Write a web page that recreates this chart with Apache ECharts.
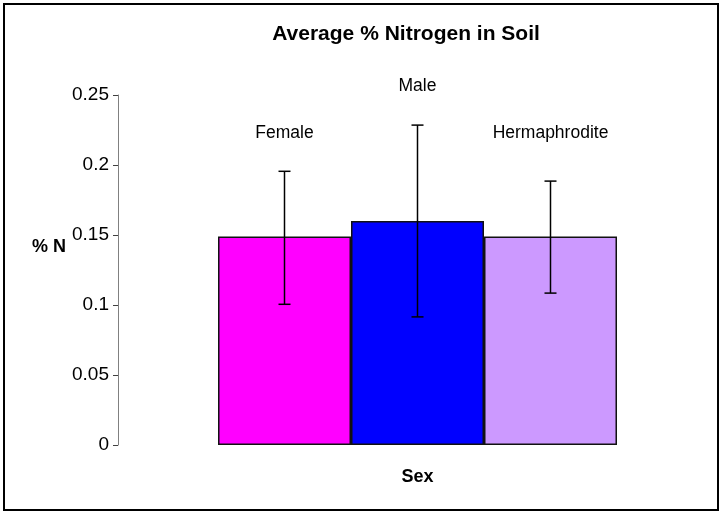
<!DOCTYPE html>
<html lang="en">
<head>
    <meta charset="UTF-8">
    <title>Average % Nitrogen in Soil</title>
    <script type="text/javascript" src="https://cdn.jsdelivr.net/npm/echarts@6/dist/echarts.min.js"></script>
    <style>
        html, body { margin: 0; padding: 0; background: #fff; }
    </style>
</head>
<body>
    <div id="charts" style="width:721px;height:512px;"></div>
</body>
<script type="text/javascript">
    // data
    var sexes = ['Female', 'Male', 'Hermaphrodite'];
    var meanN = [0.149, 0.160, 0.149];
    var errLow = [0.1005, 0.0915, 0.1085];
    var errHigh = [0.1955, 0.2285, 0.1885];
    var labelAt = [0.223, 0.256, 0.223];   // where excel put the series names
    var yTicks = [0, 0.05, 0.1, 0.15, 0.2, 0.25];

    var colors = ['#FF00FF', '#0000FF', '#CC99FF'];
    var font = '"Liberation Sans", Arial, sans-serif';

    var myChart = echarts.init(document.getElementById('charts'), null, { renderer: 'canvas' });

    var errData = sexes.map(function (s, i) {
        return [i, errLow[i], errHigh[i], labelAt[i]];
    });

    var option = {
        animation: false,
        backgroundColor: '#fff',
        title: {
            text: 'Average % Nitrogen in Soil',
            left: 401,
            top: 19,
            textAlign: 'center',
            textStyle: { fontFamily: font, fontSize: 21, fontWeight: 'bold', color: '#000' }
        },
        graphic: [{
            type: 'rect',
            shape: { x: 4, y: 4, width: 714, height: 506 },
            style: { fill: 'none', stroke: '#000', lineWidth: 2 },
            silent: true
        }],
        grid: { left: 218, right: 104, top: 95, bottom: 67 },
        xAxis: {
            type: 'category',
            data: sexes,
            name: 'Sex',
            nameLocation: 'middle',
            nameGap: 23,
            nameTextStyle: { fontFamily: font, fontSize: 18, fontWeight: 'bold', color: '#000' },
            axisLine: { show: false },
            axisTick: { show: false },
            axisLabel: { show: false },
            splitLine: { show: false }
        },
        yAxis: {
            type: 'value',
            min: yTicks[0],
            max: yTicks[yTicks.length - 1],
            interval: 0.05,
            offset: 100,
            name: '% N',
            nameLocation: 'middle',
            nameRotate: 0,
            nameGap: 46,
            nameTextStyle: {
                fontFamily: font, fontSize: 18, fontWeight: 'bold', color: '#000',
                verticalAlign: 'bottom',
                padding: [0, 0, 14, 0]
            },
            axisLine: { show: true, lineStyle: { color: '#808080', width: 1 } },
            axisTick: { show: true, inside: false, length: 5, lineStyle: { color: '#404040' } },
            axisLabel: { fontFamily: font, fontSize: 19, color: '#000', margin: 9 },
            splitLine: { show: false }
        },
        series: [{
            type: 'bar',
            data: meanN.map(function (v, i) {
                return { value: v, itemStyle: { color: colors[i] } };
            }),
            barCategoryGap: 0,
            itemStyle: { borderColor: '#111', borderWidth: 1.5 }
        }, {
            type: 'custom',
            data: errData,
            encode: { x: 0, y: [1, 2] },
            z: 5,
            renderItem: function (params, api) {
                var lo = api.coord([api.value(0), api.value(1)]);
                var hi = api.coord([api.value(0), api.value(2)]);
                var lab = api.coord([api.value(0), api.value(3)]);
                var cap = 6;
                var st = { stroke: '#000', lineWidth: 1.5 };
                return {
                    type: 'group',
                    children: [
                        { type: 'line', shape: { x1: lo[0], y1: lo[1], x2: hi[0], y2: hi[1] }, style: st },
                        { type: 'line', shape: { x1: hi[0] - cap, y1: hi[1], x2: hi[0] + cap, y2: hi[1] }, style: st },
                        { type: 'line', shape: { x1: lo[0] - cap, y1: lo[1], x2: lo[0] + cap, y2: lo[1] }, style: st },
                        {
                            type: 'text', x: lab[0], y: lab[1],
                            style: {
                                text: sexes[params.dataIndex], fill: '#000',
                                font: '17.5px ' + font, align: 'center', verticalAlign: 'middle'
                            }
                        }
                    ]
                };
            }
        }]
    };

    myChart.setOption(option);
</script>
</html>
